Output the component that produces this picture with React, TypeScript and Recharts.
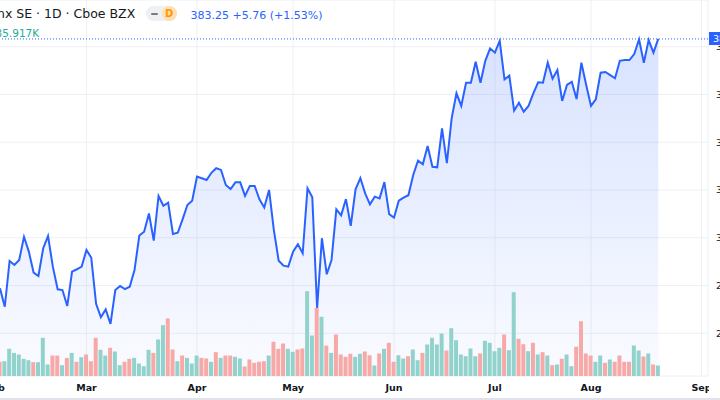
import {
  ComposedChart,
  Area,
  Bar,
  Cell,
  XAxis,
  YAxis,
  CartesianGrid,
  ReferenceLine,
} from "recharts";

// daily closes (bar 0 sits on the left edge)
const closes = [
  278.8, 271.1, 290.3, 288.6, 290.7, 300.4, 294.2, 285.4, 284.0, 295.6,
  300.7, 287.9, 278.4, 278.1, 271.4, 285.8, 286.8, 287.9, 294.9, 291.6,
  272.3, 266.7, 270.0, 263.9, 278.1, 279.8, 278.5, 279.5, 286.5, 300.9,
  302.5, 310.2, 298.8, 317.5, 313.4, 314.7, 301.6, 302.1, 307.7, 313.7,
  315.5, 325.6, 324.9, 324.2, 327.2, 329.1, 328.4, 322.1, 320.4, 323.2,
  323.2, 317.5, 321.7, 321.7, 316.1, 312.7, 320.0, 303.2, 290.4, 288.3,
  287.9, 294.2, 297.3, 293.5, 320.7, 316.9, 270.5, 299.8, 284.7, 290.7,
  311.9, 309.4, 316.2, 305.0, 320.3, 325.0, 318.6, 314.0, 317.2, 316.5,
  323.3, 309.9, 308.4, 315.5, 316.8, 317.8, 326.3, 332.3, 330.8, 338.4,
  329.7, 329.5, 345.8, 331.2, 350.0, 360.5, 355.2, 364.9, 364.9, 373.7,
  364.9, 374.1, 379.3, 377.5, 382.4, 366.3, 367.9, 353.2, 356.5, 352.8,
  355.2, 360.5, 365.1, 364.9, 373.3, 366.6, 370.2, 357.3, 364.0, 365.3,
  358.1, 373.3, 364.0, 355.2, 358.0, 369.1, 369.4, 368.1, 366.8, 374.1,
  374.4, 374.4, 376.9, 383.1, 373.3, 382.8, 377.49, 383.25,
];

// volume in thousands
const volumes = [
  48.6, 50.6, 93, 79, 73.5, 58.8, 54, 47.2, 47.2, 130.6,
  39.3, 70, 70, 37, 62, 79, 48.6, 64.3, 73.5, 50.6,
  130.6, 89.6, 70, 96.4, 83.8, 37, 48.6, 58.8, 62, 42.7,
  33.5, 89.6, 79, 125, 174, 197, 90.6, 50.6, 70, 62,
  42.7, 70, 62, 60, 48.6, 81.4, 62, 70, 70, 65.7,
  60, 32.5, 56.4, 45, 48.6, 50.6, 70, 117, 93, 111,
  93, 82.8, 90.6, 94, 290, 138.5, 233, 202.5, 104, 79,
  142, 73.5, 65.7, 76, 65.7, 76, 83.8, 71, 36, 77,
  93, 113.5, 48.6, 71, 60, 67.7, 90.6, 54, 79, 107.7,
  130.6, 107.7, 145, 87, 163.5, 122.4, 73.5, 67.7, 94, 67.7,
  77, 120.4, 113.5, 84.8, 96.4, 142, 88.2, 286.6, 127.2, 108.8,
  84.8, 113.5, 73.5, 81.4, 70, 37, 39.3, 58.8, 73.5, 33.5,
  100, 187.4, 77, 70, 48.6, 70, 45, 56.4, 48.6, 70,
  48.6, 48.6, 104.3, 87.2, 66.7, 77, 39.3, 35.917,
];

// 1 = up bar (teal), 0 = down bar (red)
const volumeUp = [
  0, 1, 1, 1, 1, 1, 1, 0, 1, 1,
  1, 0, 0, 1, 0, 1, 0, 1, 0, 0,
  0, 1, 1, 0, 1, 1, 0, 0, 1, 1,
  1, 1, 0, 1, 1, 0, 0, 1, 0, 1,
  1, 1, 0, 0, 1, 0, 1, 0, 0, 1,
  1, 0, 0, 0, 0, 0, 1, 0, 0, 0,
  1, 1, 0, 0, 1, 1, 0, 1, 0, 1,
  0, 0, 0, 0, 1, 1, 0, 0, 1, 0,
  1, 0, 0, 1, 1, 0, 1, 1, 0, 1,
  1, 1, 1, 0, 1, 1, 1, 1, 1, 1,
  0, 1, 1, 1, 1, 0, 1, 1, 0, 0,
  1, 0, 1, 0, 1, 0, 1, 0, 1, 1,
  0, 0, 0, 0, 1, 1, 0, 1, 0, 0,
  0, 0, 1, 1, 0, 1, 0, 1,
];

// bar index of the first session of each month
const monthTicks = [-1, 18, 41, 61, 82, 103, 123, 146];
const monthLabels = ["Feb", "Mar", "Apr", "May", "Jun", "Jul", "Aug", "Sep"];

const priceTicks = [260, 280, 300, 320, 340, 360, 380];
const lastPrice = 383.25;

const UP = "#92d2cc";
const DOWN = "#f7a9a7";
const LINE = "#2962ff";
const FONT = "'DejaVu Sans', sans-serif";

export default function App() {
  const data = closes.map((close, i) => ({
    i,
    close,
    volume: volumes[i],
    up: volumeUp[i],
  }));

  return (
    <div
      style={{
        position: "relative",
        width: 720,
        height: 400,
        overflow: "hidden",
        background: "#fff",
        fontFamily: FONT,
      }}
    >
      <style>{`body{margin:0}`}</style>

      <div style={{ position: "absolute", left: -30, top: 0 }}>
        <ComposedChart
          width={798}
          height={400}
          data={data}
          margin={{ top: 0, right: 0, bottom: 0, left: 0 }}
        >
          <defs>
            <linearGradient id="priceFill" x1="0" y1="0" x2="0" y2="1">
              <stop offset="0%" stopColor={LINE} stopOpacity={0.3} />
              <stop offset="100%" stopColor={LINE} stopOpacity={0.04} />
            </linearGradient>
          </defs>
          <CartesianGrid stroke="#eef0f4" yAxisId="price" />
          <XAxis
            dataKey="i"
            type="number"
            domain={[-6.24, 147.35]}
            allowDataOverflow
            ticks={monthTicks}
            interval={0}
            tickFormatter={(v) => monthLabels[monthTicks.indexOf(v)] ?? ""}
            axisLine={false}
            tickLine={false}
            height={24}
            tick={{
              fill: "#131722",
              fontSize: 9.5,
              fontWeight: 700,
              fontFamily: FONT,
            }}
          />
          <YAxis
            yAxisId="price"
            orientation="right"
            domain={[242.1, 399.56]}
            allowDataOverflow
            ticks={priceTicks}
            tickFormatter={(v) => v.toFixed(2)}
            axisLine={false}
            tickLine={false}
            width={60}
            tick={{ fill: "#131722", fontSize: 9.5, fontFamily: FONT }}
          />
          <YAxis yAxisId="vol" hide domain={[0, 1286]} allowDataOverflow />
          <Bar
            yAxisId="vol"
            dataKey="volume"
            barSize={4}
            isAnimationActive={false}
          >
            {data.map((d) => (
              <Cell key={d.i} fill={d.up ? UP : DOWN} />
            ))}
          </Bar>
          <Area
            yAxisId="price"
            type="linear"
            dataKey="close"
            stroke={LINE}
            strokeWidth={2}
            fill="url(#priceFill)"
            dot={false}
            activeDot={false}
            isAnimationActive={false}
          />
          <ReferenceLine
            yAxisId="price"
            y={lastPrice}
            stroke={LINE}
            strokeDasharray="1 2"
          />
        </ComposedChart>
      </div>

      {/* corner box between time scale and price scale */}
      <div
        style={{
          position: "absolute",
          left: 709,
          top: 377,
          width: 11,
          height: 21,
          background: "#fff",
        }}
      />

      {/* legend */}
      <div
        style={{
          position: "absolute",
          left: -3,
          top: 7.5,
          fontSize: 12.5,
          lineHeight: "12.5px",
          color: "#131722",
          whiteSpace: "nowrap",
        }}
      >
        nx SE · 1D · Cboe BZX
      </div>
      <div
        style={{
          position: "absolute",
          left: 146,
          top: 6,
          width: 31,
          height: 15,
          borderRadius: 8,
          background: "#eef0f4",
        }}
      >
        <div
          style={{
            position: "absolute",
            left: 5,
            top: 6.5,
            width: 7,
            height: 2,
            borderRadius: 1,
            background: "#787b86",
          }}
        />
        <div
          style={{
            position: "absolute",
            left: 15.5,
            top: 0,
            width: 15.5,
            height: 15,
            borderRadius: 8,
            background: "#ffe0b2",
            color: "#ff9800",
            fontSize: 10,
            fontWeight: 700,
            lineHeight: "15px",
            textAlign: "center",
          }}
        >
          D
        </div>
      </div>
      <div
        style={{
          position: "absolute",
          left: 190.5,
          top: 9.7,
          fontSize: 11,
          lineHeight: "11px",
          color: LINE,
          whiteSpace: "nowrap",
        }}
      >
        383.25 +5.76 (+1.53%)
      </div>
      <div
        style={{
          position: "absolute",
          left: -4.5,
          top: 27.8,
          fontSize: 10.5,
          lineHeight: "10.5px",
          color: "#22ab94",
          whiteSpace: "nowrap",
        }}
      >
        35.917K
      </div>

      {/* last price badge on the price scale */}
      <div
        style={{
          position: "absolute",
          left: 709,
          top: 32,
          width: 60,
          height: 13,
          background: LINE,
          color: "#fff",
          fontSize: 9.5,
          lineHeight: "13px",
          paddingLeft: 4,
        }}
      >
        383.25
      </div>

      <div
        style={{
          position: "absolute",
          left: 0,
          top: 398,
          width: 720,
          height: 2,
          background: "#e0e3eb",
        }}
      />
    </div>
  );
}
